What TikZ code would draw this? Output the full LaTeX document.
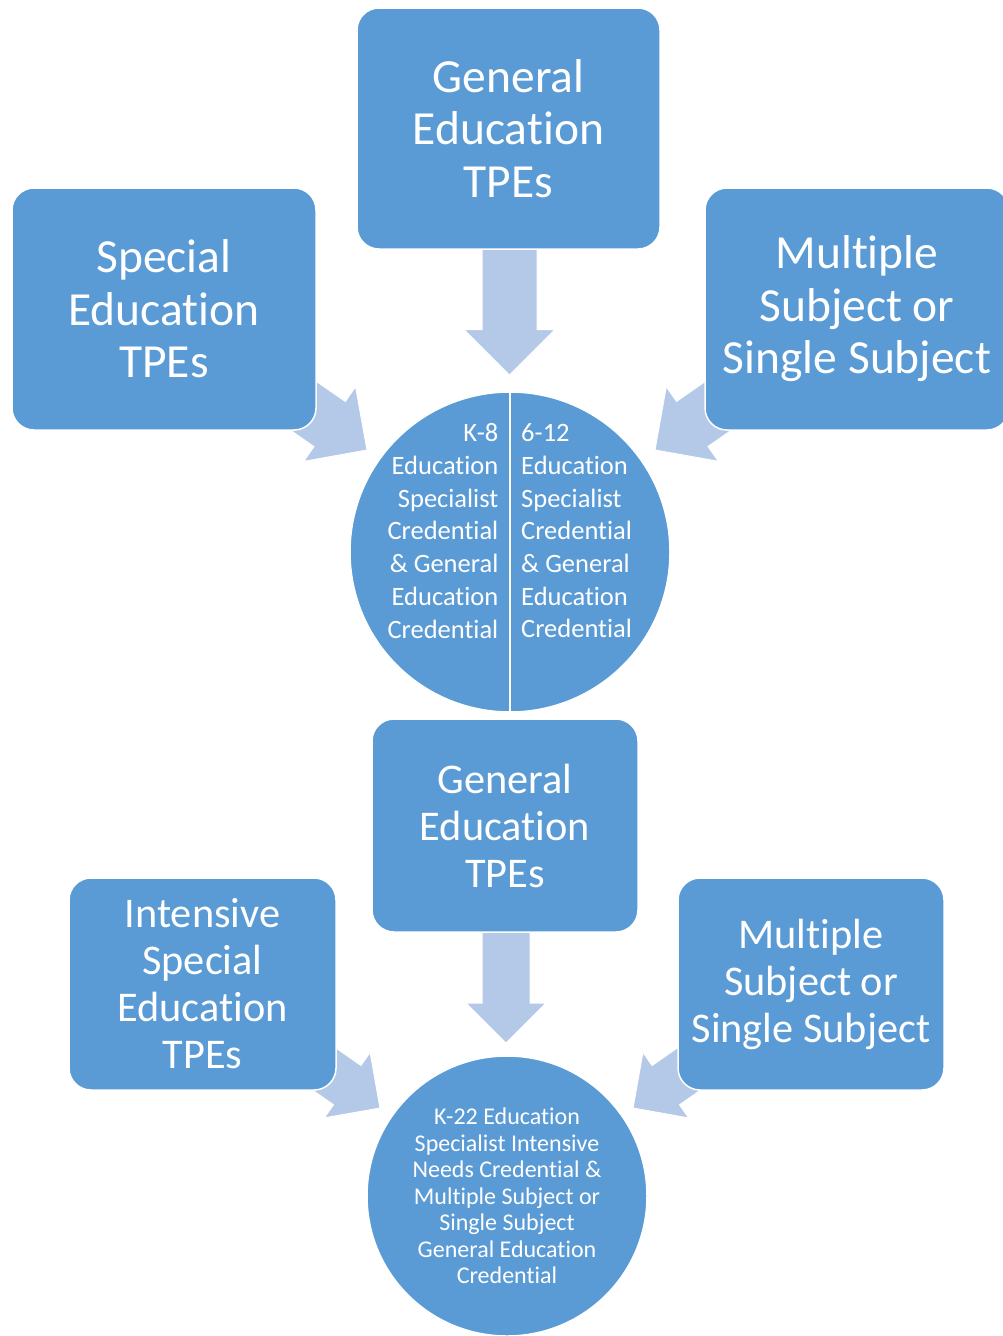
\documentclass[tikz,border=0pt]{standalone}
\usepackage{fontspec}
\setmainfont{Carlito}[Ligatures={NoCommon}]
\usetikzlibrary{calc,backgrounds}

\definecolor{boxblue}{RGB}{91,155,213}
\definecolor{arrowblue}{RGB}{180,200,231}

% block arrow: #1 start, #2 tip, #3 shaft half width, #4 head half width, #5 head length
\newcommand\blockarr[5]{%
  \path ($(#2)!#5!(#1)$) coordinate (ba-h);
  \filldraw[flow] ($(#1)!#3!90:(#2)$) -- ($(ba-h)!#3!90:(#2)$) -- ($(ba-h)!#4!90:(#2)$)
    -- (#2) -- ($(ba-h)!#4!-90:(#2)$) -- ($(ba-h)!#3!-90:(#2)$) -- ($(#1)!#3!-90:(#2)$) -- cycle;
}

\begin{document}
\begin{tikzpicture}[x=1pt,y=-1pt,
  card/.style={rectangle, rounded corners=22pt, fill=boxblue, draw=white, line width=1.5pt,
    text=white, align=center, inner sep=0pt},
  bigcard/.style={card, minimum width=304pt, minimum height=242pt,
    font=\fontsize{47.5}{52.5}\selectfont},
  smallcard/.style={card, minimum width=266pt, minimum height=212pt,
    font=\fontsize{42.3}{47}\selectfont},
  hub/.style={circle, fill=boxblue, draw=white, line width=1.5pt, inner sep=0pt},
  hubtext/.style={text=white, inner sep=0pt},
  flow/.style={fill=arrowblue, draw=white, line width=1pt, line join=miter}]

\useasboundingbox (0,0) rectangle (1002,1336);

% upper group
\node[bigcard, minimum width=303pt, minimum height=241pt] (gentop) at (508.5,128.5) {General\\Education\\TPEs};
\node[bigcard] (spectop) at (164,309) {Special\\Education\\TPEs};
\node[bigcard] (multop) at (857,309) {Multiple\\Subject or\\Single Subject};
\node[hub, minimum size=320pt] (hubtop) at (510,552) {};
\draw[white, line width=2.5pt] (hubtop.north) -- (hubtop.south);
\node[hubtext, align=right, anchor=east, font=\fontsize{26.5}{32.7}\selectfont] (hubleft) at (498.5,531)
  {K-8\\Education\\Specialist\\Credential\\\&~General\\Education\\Credential};
\node[hubtext, align=left, anchor=west, font=\fontsize{26.5}{32.7}\selectfont] (hubright) at (521,531)
  {6-12\\Education\\Specialist\\Credential\\\&~General\\Education\\Credential};

% lower group
\node[smallcard, minimum height=213pt] (genbot) at (505,825.5) {General\\Education\\TPEs};
\node[smallcard, minimum width=267pt] (specbot) at (202.5,984) {Intensive\\Special\\Education\\TPEs};
\node[smallcard] (mulbot) at (811,984) {Multiple\\Subject or\\Single Subject};
\node[hub, minimum size=280pt, align=center, text=white, font=\fontsize{24}{26.5}\selectfont] (hubbot) at (507,1196)
  {K-22 Education\\Specialist Intensive\\Needs Credential \&\\Multiple Subject or\\Single Subject\\General Education\\Credential};

% arrow tips
\coordinate (tipA) at (509.5,375);
\coordinate (tipB) at (367,450);
\coordinate (tipC) at (655,450);
\coordinate (tipD) at (506,1043);
\coordinate (tipE) at (380,1108);
\coordinate (tipF) at (633,1108);
\coordinate (srcA) at (509.5,128.5);
\coordinate (srcD) at (506,825.5);

\begin{pgfonlayer}{background}
  \blockarr{srcA}{tipA}{27.5pt}{45.5pt}{45.5pt}
  \blockarr{spectop.center}{tipB}{27.5pt}{45.5pt}{45.5pt}
  \blockarr{multop.center}{tipC}{27.5pt}{45.5pt}{45.5pt}
  \blockarr{srcD}{tipD}{24pt}{40pt}{40pt}
  \blockarr{specbot.center}{tipE}{24pt}{40pt}{40pt}
  \blockarr{mulbot.center}{tipF}{24pt}{40pt}{40pt}
\end{pgfonlayer}
\end{tikzpicture}
\end{document}
